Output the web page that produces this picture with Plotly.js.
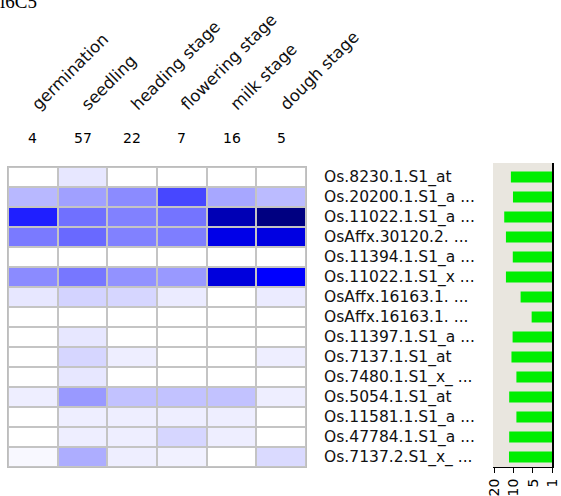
<!DOCTYPE html>
<html>
<head>
<meta charset="utf-8">
<script src="https://cdn.plot.ly/plotly-3.0.1.min.js"></script>
<style>
  html, body { margin: 0; padding: 0; background: #ffffff; }
  #chart { width: 561px; height: 496px; }
</style>
</head>
<body>
<div id="chart"></div>
<script>
// Developmental stages (heatmap columns) and number of samples per stage
const stages = ['germination', 'seedling', 'heading stage', 'flowering stage', 'milk stage', 'dough stage'];
const sampleCounts = [4, 57, 22, 7, 16, 5];

// Probe sets (heatmap rows, top to bottom)
const probes = [
  'Os.8230.1.S1_at',
  'Os.20200.1.S1_a ...',
  'Os.11022.1.S1_a ...',
  'OsAffx.30120.2. ...',
  'Os.11394.1.S1_a ...',
  'Os.11022.1.S1_x ...',
  'OsAffx.16163.1. ...',
  'OsAffx.16163.1. ...',
  'Os.11397.1.S1_a ...',
  'Os.7137.1.S1_at',
  'Os.7480.1.S1_x_ ...',
  'Os.5054.1.S1_at',
  'Os.11581.1.S1_a ...',
  'Os.47784.1.S1_a ...',
  'Os.7137.2.S1_x_ ...'
];

// Relative expression level per probe (rows) and stage (columns), 0-100
const expression = [
  [0, 7, 0, 0, 0, 0],
  [21, 28, 34, 54, 26, 20],
  [66, 42, 37, 41, 88, 97],
  [39, 44, 37, 38, 79, 80],
  [0, 0, 0, 0, 0, 0],
  [34, 40, 32, 30, 81, 75],
  [7, 13, 12, 6, 0, 6],
  [0, 0, 0, 0, 0, 0],
  [0, 7, 0, 0, 0, 0],
  [0, 12, 5, 0, 0, 5],
  [0, 7, 0, 0, 0, 0],
  [5, 30, 18, 18, 18, 5],
  [0, 5, 5, 5, 5, 0],
  [0, 5, 5, 12, 5, 0],
  [2, 24, 5, 4, 0, 11]
];

// Side bar panel: level of each probe on the 1-5-10-20 scale (axis units)
const barLevel = [2.16, 2.05, 2.51, 2.42, 2.06, 2.42, 1.65, 1.07, 2.07, 2.13, 1.87, 2.25, 1.87, 2.25, 2.26];
const barTickVals = [3, 2, 1, 0];
const barTickText = ['20', '10', '5', '1'];

const W = 561, H = 496;
const px = v => v / W;
const py = v => 1 - v / H;
const rowIdx = probes.map((_, i) => i);
const colIdx = stages.map((_, i) => i);
const FONT = 'DejaVu Sans, Verdana, sans-serif';

const heat = {
  type: 'heatmap',
  x: colIdx,
  y: rowIdx,
  z: expression,
  zmin: 0,
  zmax: 100,
  colorscale: [[0, '#ffffff'], [0.75, '#0000ff'], [1, '#000070']],
  showscale: false,
  xgap: 2,
  ygap: 2,
  hoverinfo: 'skip',
  xaxis: 'x',
  yaxis: 'y'
};

const bars = {
  type: 'bar',
  orientation: 'h',
  x: barLevel,
  y: rowIdx,
  width: 0.55,
  marker: { color: '#00ee00', line: { width: 0 } },
  hoverinfo: 'skip',
  xaxis: 'x2',
  yaxis: 'y2'
};

const countNotes = sampleCounts.map((n, i) => ({
  x: i, xref: 'x',
  y: py(138), yref: 'paper',
  text: String(n),
  showarrow: false,
  xanchor: 'center', yanchor: 'middle',
  font: { family: FONT, size: 14, color: '#000' }
}));

const layout = {
  width: W,
  height: H,
  margin: { l: 0, r: 0, t: 0, b: 0, pad: 0 },
  paper_bgcolor: '#ffffff',
  plot_bgcolor: 'rgba(0,0,0,0)',
  showlegend: false,
  xaxis: {
    domain: [px(8), px(306)],
    range: [-0.5, 5.5],
    side: 'top',
    tickmode: 'array',
    tickvals: colIdx,
    ticktext: stages,
    tickangle: -45,
    ticks: '',
    ticklabelstandoff: 46,
    tickfont: { family: FONT, size: 16.5, color: '#111' },
    showgrid: false, zeroline: false,
    showline: true, linecolor: '#bdbdbd', linewidth: 1, mirror: true,
    automargin: false, fixedrange: true
  },
  yaxis: {
    domain: [py(467), py(167)],
    range: [14.5, -0.5],
    side: 'right',
    tickmode: 'array',
    tickvals: rowIdx,
    ticktext: probes,
    ticks: '',
    ticklabelstandoff: 14,
    tickfont: { family: FONT, size: 15.5, color: '#111' },
    showgrid: false, zeroline: false,
    showline: true, linecolor: '#bdbdbd', linewidth: 1, mirror: true,
    automargin: false, fixedrange: true
  },
  xaxis2: {
    domain: [px(493), px(552)],
    anchor: 'y2',
    range: [3.1, 0],
    tickmode: 'array',
    tickvals: barTickVals,
    ticktext: barTickText,
    tickangle: -90,
    ticks: 'outside', ticklen: 5, tickcolor: '#000', tickwidth: 1,
    tickfont: { family: FONT, size: 14, color: '#000' },
    showgrid: false, zeroline: false,
    showline: true, linecolor: '#000', linewidth: 1,
    automargin: false, fixedrange: true
  },
  yaxis2: {
    domain: [py(467), py(163)],
    anchor: 'x2',
    range: [14.5, -0.7],
    side: 'right',
    showticklabels: false,
    ticks: '',
    showgrid: false, zeroline: false,
    showline: true, linecolor: '#000', linewidth: 1.5,
    automargin: false, fixedrange: true
  },
  shapes: [
    { type: 'rect', xref: 'x domain', yref: 'y domain', x0: 0, x1: 1, y0: 0, y1: 1,
      fillcolor: '#c4c4c4', line: { width: 0 }, layer: 'below' },
    { type: 'rect', xref: 'x2 domain', yref: 'y2 domain', x0: 0, x1: 1, y0: 0, y1: 1,
      fillcolor: '#e9e6df', line: { width: 0 }, layer: 'below' }
  ],
  annotations: countNotes.concat([{
    x: px(39), xref: 'paper',
    y: 1, yref: 'paper',
    xanchor: 'right', yanchor: 'middle',
    yshift: -1,
    text: 'l6C5',
    showarrow: false,
    font: { family: 'Liberation Serif, Times New Roman, serif', size: 19, color: '#000' }
  }])
};

Plotly.newPlot('chart', [heat, bars], layout, { displayModeBar: false, staticPlot: true });
</script>
</body>
</html>
